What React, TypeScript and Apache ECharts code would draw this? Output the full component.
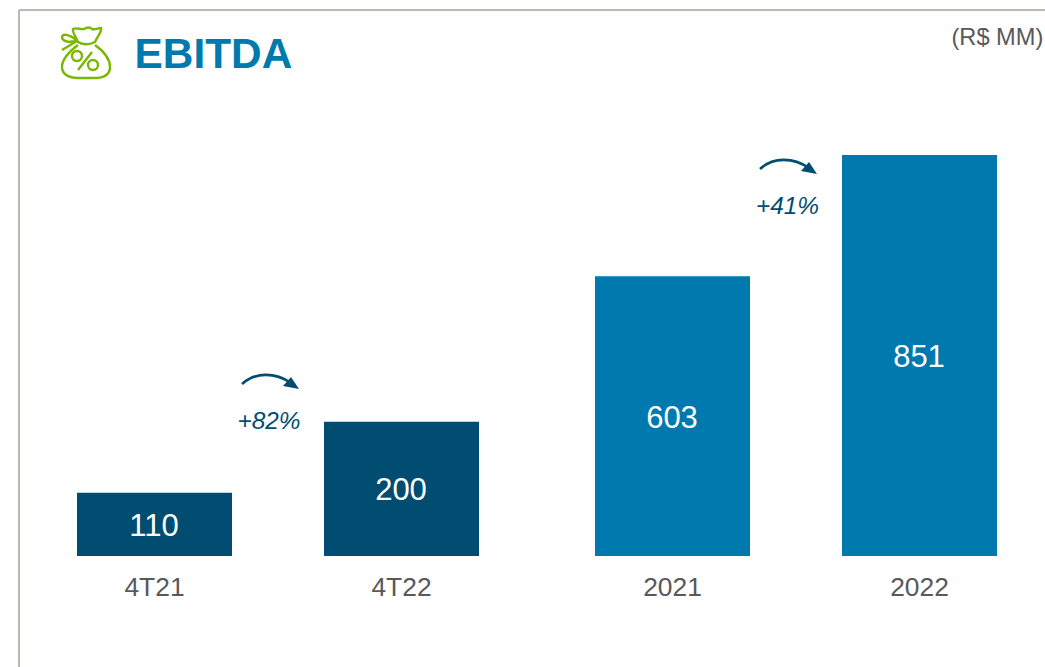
import React, { useEffect, useRef } from "react";
import * as echarts from "echarts";

const quarterCategories = ["4T21", "4T22"];
const quarterValues = [110, 200];
const yearCategories = ["2021", "2022"];
const yearValues = [603, 851];
const growthLabels = ["+82%", "+41%"];

const FONT = '"Liberation Sans", Arial, sans-serif';
const DARK = "#004D71";
const BLUE = "#0079AE";
const GREY = "#595959";
const GREEN = "#7AB800";

const bagPath =
  "M78 45 C70 51 62 59 62 67 C62 75 70 78 78 78 L94 78 C103 78 110 75 110 67 C110 58 102 50 95 45 " +
  "M78 42 C76 37 72 32 73 29 C77 27 80 30 84 29 C87 27 90 27 92 29 C95 30 98 28 101 28 C102 32 97 37 95 42 C89 45 83 45 78 42 Z " +
  "M77 41 L62 50 M76 40 C71 35 63 33 62 37 C62 41 68 43 76 41 " +
  "M72 56 A5 5 0 1 0 82 56 A5 5 0 1 0 72 56 " +
  "M88 65 A5 5 0 1 0 98 65 A5 5 0 1 0 88 65 " +
  "M92 52 L78 70";
echarts.graphic.registerShape("bagIcon", echarts.graphic.extendPath(bagPath, {}));

function arrow(x: number, y: number) {
  return [
    {
      type: "bezierCurve",
      shape: { x1: x + 1, y1: y + 9, cpx1: x + 14, cpy1: y - 3, cpx2: x + 34, cpy2: y - 3, x2: x + 50, y2: y + 8 },
      style: { stroke: DARK, lineWidth: 2.6, fill: "none" },
    },
    {
      type: "polygon",
      shape: { points: [[x + 58, y + 14], [x + 42, y + 11], [x + 50, y + 2]] },
      style: { fill: DARK },
    },
  ];
}

function barSeries(data: number[], color: string, idx: number) {
  return {
    type: "bar",
    xAxisIndex: idx,
    yAxisIndex: idx,
    data,
    barWidth: 155,
    itemStyle: { color },
    label: { show: true, position: "inside", offset: [-0.5, 1], color: "#fff", fontFamily: FONT, fontSize: 31 },
  };
}

function catAxis(data: string[], gridIndex: number) {
  return {
    type: "category",
    gridIndex,
    data,
    axisLine: { show: false },
    axisTick: { show: false },
    axisLabel: { color: GREY, fontFamily: FONT, fontSize: 26.4, margin: 18 },
  };
}

export default function App() {
  const ref = useRef<HTMLDivElement>(null);
  useEffect(() => {
    document.body.style.margin = "0";
    const chart = echarts.init(ref.current!, null, { renderer: "svg" });
    chart.setOption({
      animation: false,
      backgroundColor: "#fff",
      grid: [
        { left: 31, width: 494, top: 155, height: 401 },
        { left: 549, width: 494, top: 155, height: 401 },
      ],
      xAxis: [catAxis(quarterCategories, 0), catAxis(yearCategories, 1)],
      yAxis: [
        { type: "value", gridIndex: 0, min: 30, max: 538, show: false },
        { type: "value", gridIndex: 1, min: 30, max: 851, show: false },
      ],
      series: [barSeries(quarterValues, DARK, 0), barSeries(yearValues, BLUE, 1)],
      graphic: [
        { type: "line", shape: { x1: 19, y1: 10, x2: 1045, y2: 10 }, style: { stroke: "#A5A393", lineWidth: 1.5 } },
        { type: "line", shape: { x1: 19, y1: 10, x2: 19, y2: 667 }, style: { stroke: "#A5A393", lineWidth: 1.5 } },
        { type: "bagIcon", style: { stroke: GREEN, lineWidth: 2.4, fill: "none" } },
        {
          type: "text",
          x: 134.5,
          y: 53.5,
          style: { text: "EBITDA", fill: BLUE, fontFamily: FONT, fontSize: 42.4, fontWeight: "bold", textVerticalAlign: "middle" },
        },
        {
          type: "text",
          x: 951.5,
          y: 36.5,
          style: { text: "(R$ MM)", fill: GREY, fontFamily: FONT, fontSize: 23.6, textVerticalAlign: "middle" },
        },
        ...arrow(241, 375),
        ...arrow(759, 160),
        {
          type: "text",
          x: 237.5,
          y: 420,
          style: { text: growthLabels[0], fill: DARK, fontFamily: FONT, fontSize: 24.4, fontStyle: "italic", textVerticalAlign: "middle" },
        },
        {
          type: "text",
          x: 756,
          y: 205,
          style: { text: growthLabels[1], fill: DARK, fontFamily: FONT, fontSize: 24.4, fontStyle: "italic", textVerticalAlign: "middle" },
        },
      ],
    });
    return () => chart.dispose();
  }, []);
  return <div ref={ref} style={{ width: 1045, height: 667 }} />;
}
